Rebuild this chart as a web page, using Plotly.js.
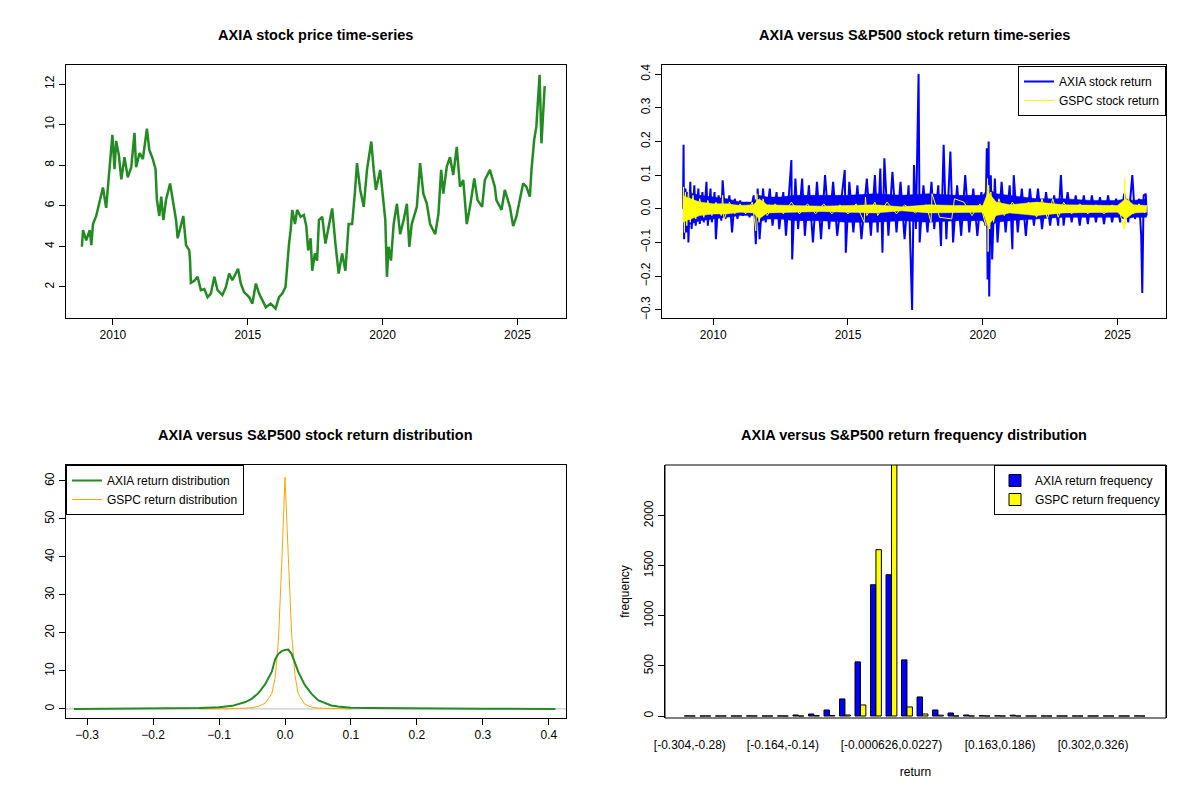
<!DOCTYPE html>
<html>
<head>
<meta charset="utf-8">
<script src="https://cdn.plot.ly/plotly-3.0.1.min.js"></script>
<style>body{margin:0;background:#fff}#chart{width:1200px;height:800px}</style>
</head>
<body>
<div id="chart"></div>
<script>
"use strict";
// AXIA price (decimal years)
var priceYears=[2008.85,2008.89,2009.01,2009.14,2009.20,2009.26,2009.38,2009.51,2009.63,2009.75,2009.82,2009.90,2009.98,2010.06,2010.12,2010.22,2010.31,2010.43,2010.55,2010.68,2010.80,2010.86,2010.99,2011.11,2011.26,2011.35,2011.48,2011.58,2011.63,2011.72,2011.79,2011.87,2011.97,2012.12,2012.22,2012.34,2012.40,2012.52,2012.61,2012.71,2012.83,2012.86,2012.89,2013.02,2013.14,2013.26,2013.39,2013.51,2013.63,2013.76,2013.88,2014.06,2014.19,2014.31,2014.43,2014.64,2014.74,2014.86,2015.05,2015.17,2015.30,2015.42,2015.54,2015.67,2015.85,2016.03,2016.16,2016.28,2016.40,2016.47,2016.53,2016.59,2016.65,2016.75,2016.83,2016.96,2017.08,2017.17,2017.24,2017.33,2017.39,2017.49,2017.57,2017.64,2017.76,2017.88,2018.00,2018.13,2018.25,2018.37,2018.50,2018.62,2018.74,2018.87,2018.97,2019.05,2019.17,2019.30,2019.42,2019.51,2019.58,2019.67,2019.75,2019.91,2020.04,2020.10,2020.16,2020.22,2020.31,2020.41,2020.53,2020.65,2020.78,2020.90,2020.99,2021.08,2021.27,2021.39,2021.51,2021.64,2021.76,2021.95,2022.07,2022.17,2022.25,2022.38,2022.50,2022.62,2022.75,2022.87,2022.99,2023.12,2023.24,2023.40,2023.52,2023.69,2023.79,2023.98,2024.16,2024.22,2024.41,2024.53,2024.72,2024.84,2024.96,2025.09,2025.21,2025.33,2025.46,2025.52,2025.62,2025.70,2025.76,2025.82,2025.89,2025.95,2026.01];
var priceVals=[3.98,4.8,4.3,4.8,4.06,5.1,5.5,6.3,6.9,5.9,7.1,8.4,9.5,7.8,9.2,8.5,7.3,8.4,7.4,7.9,9.6,7.9,8.6,8.3,9.8,8.75,8.3,7.8,6.3,5.5,6.45,5.3,6.3,7.1,6.3,5.3,4.4,5.0,5.5,4.06,3.8,3.3,2.2,2.3,2.5,1.84,1.9,1.5,1.67,2.5,1.84,1.6,2.0,2.66,2.33,2.9,2.17,1.75,1.5,1.18,2.17,1.67,1.34,1.0,1.18,0.93,1.5,1.67,2.0,3.3,4.14,4.8,5.8,5.1,5.8,5.46,5.55,5.0,3.8,4.4,2.8,3.65,3.3,5.3,5.46,4.14,5.0,5.87,4.14,2.66,3.65,2.8,5.1,5.1,6.6,8.1,6.78,5.95,7.77,8.6,9.17,7.77,6.78,7.77,6.28,5.3,2.5,3.98,3.3,5.1,6.1,4.6,5.3,6.1,3.98,5.1,5.95,8.1,6.6,6.1,5.1,4.6,5.6,7.77,6.6,7.93,8.4,7.52,8.9,6.94,7.27,5.1,5.95,7.35,6.28,5.95,7.27,7.77,6.94,6.28,5.8,6.78,5.95,5.0,5.46,6.28,7.1,6.94,6.45,7.77,9.25,9.9,11.4,12.46,9.08,10.57,11.9];

// daily returns: spikes
var axiaRetYears=[2008.88,2008.90,2008.92,2008.97,2009.00,2009.05,2009.08,2009.15,2009.2,2009.3,2009.35,2009.45,2009.5,2009.6,2009.65,2009.75,2009.8,2009.9,2009.95,2010.05,2010.1,2010.2,2010.3,2010.35,2010.45,2010.6,2010.7,2010.8,2010.9,2011.0,2011.1,2011.25,2011.35,2011.5,2011.58,2011.65,2011.72,2011.85,2011.95,2012.1,2012.2,2012.35,2012.45,2012.6,2012.7,2012.85,2012.9,2012.93,2013.05,2013.15,2013.3,2013.4,2013.55,2013.7,2013.85,2014.0,2014.15,2014.3,2014.45,2014.6,2014.88,2014.92,2015.05,2015.2,2015.35,2015.5,2015.7,2015.85,2016.0,2016.1,2016.2,2016.28,2016.35,2016.5,2016.65,2016.8,2016.95,2017.1,2017.25,2017.38,2017.45,2017.52,2017.62,2017.66,2017.8,2017.95,2018.1,2018.2,2018.35,2018.45,2018.55,2018.65,2018.8,2018.9,2019.05,2019.2,2019.35,2019.5,2019.65,2019.8,2019.95,2020.1,2020.15,2020.18,2020.22,2020.24,2020.3,2020.35,2020.45,2020.55,2020.7,2020.85,2021.0,2021.1,2021.15,2021.3,2021.45,2021.6,2021.75,2021.9,2022.05,2022.2,2022.35,2022.5,2022.65,2022.8,2022.9,2023.0,2023.15,2023.3,2023.45,2023.6,2023.75,2023.9,2024.05,2024.2,2024.35,2024.5,2024.65,2024.8,2024.95,2025.1,2025.25,2025.4,2025.55,2025.65,2025.8,2025.88,2025.92,2025.97,2026.05,2026.08];
var axiaRet=[0,0.19,-0.09,0.06,-0.07,0.05,-0.1,0.08,-0.06,0.07,-0.05,0.06,-0.045,0.05,-0.04,0.08,-0.05,0.06,-0.04,0.05,-0.09,0.04,-0.035,0.085,-0.03,0.04,-0.07,0.03,-0.03,0.025,-0.02,0.02,-0.025,0.04,-0.105,0.06,-0.09,0.06,-0.04,0.06,-0.05,0.05,-0.06,0.05,-0.08,0.08,0.145,-0.15,0.09,-0.06,0.09,-0.08,0.07,-0.1,0.08,-0.09,0.1,-0.06,0.08,-0.08,0.115,-0.13,0.08,-0.07,0.07,-0.09,0.09,-0.08,0.1,-0.07,0.12,-0.13,0.15,-0.08,0.11,-0.07,0.08,-0.09,0.07,-0.3,0.13,-0.06,0.4,-0.1,0.07,-0.07,0.08,-0.06,0.07,-0.11,0.19,-0.09,0.17,-0.1,0.07,-0.08,0.1,-0.07,0.06,-0.08,0.05,-0.05,0.18,-0.21,0.2,-0.26,0.1,-0.15,0.09,-0.1,0.08,-0.07,0.07,-0.12,0.1,-0.07,0.06,-0.08,0.06,-0.05,0.06,-0.06,0.05,-0.05,0.04,-0.05,0.1,-0.05,0.05,-0.04,0.04,-0.05,0.04,-0.045,0.04,-0.04,0.035,-0.045,0.04,-0.04,0.03,-0.04,0.045,-0.04,0.1,-0.03,0.03,-0.08,-0.25,0.04,0.045,-0.02];
var gspcRetYears=[2008.88,2008.90,2008.93,2008.97,2009.02,2009.08,2009.15,2009.25,2009.35,2009.5,2009.65,2009.8,2009.95,2010.1,2010.3,2010.35,2010.4,2010.6,2010.8,2011.0,2011.2,2011.45,2011.58,2011.62,2011.7,2011.85,2012.0,2012.3,2012.6,2012.9,2013.2,2013.5,2013.8,2014.1,2014.4,2014.7,2015.0,2015.3,2015.6,2015.65,2015.7,2016.0,2016.1,2016.45,2016.8,2017.1,2017.5,2017.9,2018.08,2018.12,2018.4,2018.85,2018.95,2019.3,2019.6,2019.9,2020.12,2020.18,2020.2,2020.22,2020.26,2020.3,2020.4,2020.6,2020.8,2021.1,2021.4,2021.7,2022.0,2022.2,2022.4,2022.6,2022.8,2023.0,2023.3,2023.6,2023.9,2024.2,2024.5,2024.8,2025.1,2025.25,2025.27,2025.29,2025.4,2025.6,2025.8,2026.0,2026.08];
var gspcRet=[0,0.065,-0.07,0.05,-0.05,0.06,-0.04,0.04,-0.03,0.03,-0.025,0.025,-0.02,0.02,-0.02,0.04,-0.035,0.02,-0.015,0.015,-0.015,0.02,-0.065,0.045,-0.04,0.03,-0.02,0.015,-0.015,0.02,-0.015,0.015,-0.015,0.015,-0.015,0.012,-0.015,0.015,-0.04,0.035,-0.02,0.02,-0.02,0.02,-0.015,0.012,-0.012,0.012,-0.04,0.045,-0.025,-0.03,0.03,0.02,-0.02,0.015,-0.05,0.09,-0.127,0.07,-0.06,0.05,-0.04,0.03,-0.02,0.02,-0.015,0.02,-0.025,0.03,-0.03,0.03,-0.025,0.02,-0.015,0.015,-0.015,0.012,-0.015,0.012,-0.015,-0.06,0.09,-0.05,0.03,-0.015,0.015,-0.012,0.01];

// dense day-to-day band around zero (typical upper / lower excursions)
var bandYears=[2008.88,2009.0,2009.5,2010.0,2010.5,2011.0,2011.5,2011.7,2012.0,2012.5,2013.0,2014.0,2015.0,2016.0,2017.0,2018.0,2019.0,2020.0,2020.2,2020.5,2021.0,2022.0,2023.0,2024.0,2025.0,2025.3,2025.6,2026.08];
var axiaBandUp=[0.05,0.05,0.04,0.035,0.03,0.02,0.02,0.04,0.035,0.035,0.04,0.04,0.04,0.045,0.04,0.045,0.04,0.04,0.06,0.045,0.04,0.03,0.03,0.025,0.025,0.03,0.025,0.03];
var axiaBandLo=[-0.05,-0.05,-0.035,-0.03,-0.025,-0.02,-0.02,-0.04,-0.03,-0.03,-0.035,-0.035,-0.04,-0.04,-0.035,-0.04,-0.035,-0.035,-0.06,-0.04,-0.035,-0.03,-0.025,-0.025,-0.025,-0.03,-0.025,-0.025];
var gspcBandUp=[0.04,0.035,0.02,0.015,0.015,0.01,0.012,0.03,0.012,0.01,0.01,0.008,0.01,0.012,0.006,0.012,0.01,0.01,0.05,0.02,0.012,0.02,0.012,0.01,0.01,0.03,0.012,0.01];
var gspcBandLo=[-0.04,-0.035,-0.02,-0.015,-0.015,-0.01,-0.012,-0.03,-0.012,-0.01,-0.01,-0.008,-0.01,-0.012,-0.006,-0.012,-0.01,-0.01,-0.05,-0.02,-0.012,-0.02,-0.012,-0.01,-0.01,-0.03,-0.012,-0.01];

// density estimates
var axiaDensX=[-0.32,-0.2,-0.13,-0.1,-0.08,-0.06,-0.05,-0.04,-0.03,-0.02,-0.015,-0.01,-0.005,0,0.005,0.01,0.015,0.02,0.03,0.04,0.05,0.06,0.07,0.08,0.1,0.13,0.2,0.3,0.41];
var axiaDensY=[0,0.05,0.2,0.4,0.8,1.8,2.7,4.2,6.5,9.8,13,14.5,15.2,15.5,15.6,14.5,12,9.8,6.3,4.0,2.3,1.5,0.9,0.6,0.3,0.2,0.05,0.02,0];
var gspcDensX=[-0.13,-0.08,-0.05,-0.04,-0.03,-0.02,-0.015,-0.01,-0.005,0,0.005,0.01,0.015,0.02,0.03,0.04,0.05,0.07,0.1];
var gspcDensY=[0,0.05,0.3,0.7,1.5,4,8,18,38,61,40,20,9,4,1.2,0.5,0.2,0.05,0];

// histogram bins
var binLabels=["[-0.304,-0.28)","[-0.28,-0.257)","[-0.257,-0.234)","[-0.234,-0.211)","[-0.211,-0.187)","[-0.187,-0.164)","[-0.164,-0.14)","[-0.14,-0.117)","[-0.117,-0.0939)","[-0.0939,-0.0706)","[-0.0706,-0.0473)","[-0.0473,-0.0239)","[-0.0239,-0.000626)","[-0.000626,0.0227)","[0.0227,0.0461)","[0.0461,0.0694)","[0.0694,0.0927)","[0.0927,0.116)","[0.116,0.14)","[0.14,0.163)","[0.163,0.186)","[0.186,0.209)","[0.209,0.233)","[0.233,0.256)","[0.256,0.279)","[0.279,0.302)","[0.302,0.326)","[0.326,0.349)","[0.349,0.372)","[0.372,0.396]"];
var axiaFreq=[1,0,0,0,1,0,1,10,20,60,170,540,1310,1410,560,190,60,30,10,3,2,8,0,0,0,0,0,0,0,1];
var gspcFreq=[0,0,0,0,0,0,0,0,3,5,10,110,1660,2600,90,20,8,0,0,0,0,0,0,0,0,0,0,0,0,0];
var shownBins=["[-0.304,-0.28)","[-0.164,-0.14)","[-0.000626,0.0227)","[0.163,0.186)","[0.302,0.326)"];

var W=1200,H=800;
function dx(a,b){return [a/W,b/W];}
function dy(top,bot){return [1-bot/H,1-top/H];}
var font={family:'"Liberation Sans", Arial, sans-serif',size:12,color:'#000'};
function ax(extra){
	var base={showline:true,linecolor:'#000',linewidth:1,mirror:true,ticks:'outside',ticklen:6,tickcolor:'#000',
		showgrid:false,zeroline:false,tickfont:{size:12}};
	for (var k in extra) base[k]=extra[k];
	return base;
}
var legendBase={bordercolor:'#000',borderwidth:1,bgcolor:'#fff',font:{size:12},tracegroupgap:0};
function band(years,up,lo,color){
	return {x:years.concat(years.slice().reverse()),y:up.concat(lo.slice().reverse()),type:'scatter',mode:'lines',
		fill:'toself',fillcolor:color,line:{color:color,width:0.5},xaxis:'x2',yaxis:'y2',showlegend:false};
}

var traces=[
	{x:priceYears,y:priceVals,type:'scatter',mode:'lines',line:{color:'#228B22',width:2.5},xaxis:'x',yaxis:'y',showlegend:false},
	band(bandYears,axiaBandUp,axiaBandLo,'#0000FF'),
	{x:axiaRetYears,y:axiaRet,type:'scatter',mode:'lines',line:{color:'#0000FF',width:2},xaxis:'x2',yaxis:'y2',name:'AXIA stock return',legend:'legend'},
	band(bandYears,gspcBandUp,gspcBandLo,'#FFFF00'),
	{x:gspcRetYears,y:gspcRet,type:'scatter',mode:'lines',line:{color:'#FFFF00',width:1},xaxis:'x2',yaxis:'y2',name:'GSPC stock return',legend:'legend'},
	{x:[-0.332,0.426],y:[0,0],type:'scatter',mode:'lines',line:{color:'#BEBEBE',width:1},xaxis:'x3',yaxis:'y3',showlegend:false},
	{x:gspcDensX,y:gspcDensY,type:'scatter',mode:'lines',line:{color:'#FFA500',width:1},xaxis:'x3',yaxis:'y3',name:'GSPC return distribution',legend:'legend2'},
	{x:axiaDensX,y:axiaDensY,type:'scatter',mode:'lines',line:{color:'#228B22',width:2},xaxis:'x3',yaxis:'y3',name:'AXIA return distribution',legend:'legend2'},
	{x:binLabels,y:axiaFreq,type:'bar',marker:{color:'#0000FF',line:{color:'#000',width:1}},xaxis:'x4',yaxis:'y4',name:'AXIA return frequency',legend:'legend3'},
	{x:binLabels,y:gspcFreq,type:'bar',marker:{color:'#FFFF00',line:{color:'#000',width:1}},xaxis:'x4',yaxis:'y4',name:'GSPC return frequency',legend:'legend3'}
];

var layout={
	width:W,height:H,margin:{l:0,r:0,t:0,b:0},paper_bgcolor:'#fff',plot_bgcolor:'#fff',font:font,
	barmode:'group',bargap:0.3,bargroupgap:0,
	xaxis:ax({domain:dx(66,566),range:[2008.26,2026.8],tickvals:[2010,2015,2020,2025],anchor:'y'}),
	yaxis:ax({domain:dy(65,318),range:[0.47,12.94],tickvals:[2,4,6,8,10,12],tickangle:-90,anchor:'x'}),
	xaxis2:ax({domain:dx(662,1166),range:[2008.1,2026.8],tickvals:[2010,2015,2020,2025],anchor:'y2'}),
	yaxis2:ax({domain:dy(65,318),range:[-0.324,0.427],tickvals:[-0.3,-0.2,-0.1,0,0.1,0.2,0.3,0.4],tickformat:'.1f',tickangle:-90,anchor:'x2'}),
	xaxis3:ax({domain:dx(66,566),range:[-0.332,0.426],tickvals:[-0.3,-0.2,-0.1,0,0.1,0.2,0.3,0.4],tickformat:'.1f',anchor:'y3'}),
	yaxis3:ax({domain:dy(465,718),range:[-2.4,64.2],tickvals:[0,10,20,30,40,50,60],tickangle:-90,anchor:'x3'}),
	xaxis4:ax({domain:dx(665,1166),type:'category',range:[-1.6,30.7],tickvals:shownBins,ticks:'',tickangle:0,anchor:'y4',showline:false,mirror:false,
		ticklabelstandoff:18,title:{text:'return',font:{size:12},standoff:16}}),
	yaxis4:ax({domain:dy(465,718),range:[-20,2505],tickvals:[0,500,1000,1500,2000],tickangle:-90,anchor:'x4',
		title:{text:'frequency',font:{size:12},standoff:10}}),
	legend:Object.assign({x:1166/W,xanchor:'right',y:1-66/H,yanchor:'top'},legendBase),
	legend2:Object.assign({x:66/W,xanchor:'left',y:1-465/H,yanchor:'top',traceorder:'reversed'},legendBase),
	legend3:Object.assign({x:1166/W,xanchor:'right',y:1-465/H,yanchor:'top'},legendBase),
	shapes:[{type:'rect',xref:'paper',yref:'paper',x0:665/W,x1:1166/W,y0:1-718/H,y1:1-465/H,line:{color:'#000',width:1}}],
	annotations:[
		{text:'<b>AXIA stock price time-series</b>',x:316/W,y:1-35/H},
		{text:'<b>AXIA versus S&P500 stock return time-series</b>',x:914/W,y:1-35/H},
		{text:'<b>AXIA versus S&P500 stock return distribution</b>',x:316/W,y:1-435/H},
		{text:'<b>AXIA versus S&P500 return frequency distribution</b>',x:914/W,y:1-435/H}
	].map(function(a){
		a.xref='paper';a.yref='paper';a.showarrow=false;a.xanchor='center';a.yanchor='middle';a.font={size:14.5};
		return a;
	})
};

Plotly.newPlot('chart',traces,layout,{displayModeBar:false,staticPlot:true});
</script>
</body>
</html>
